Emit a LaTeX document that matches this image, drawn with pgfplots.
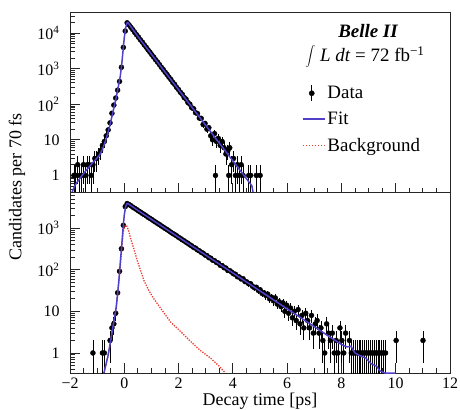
\documentclass[border=0pt]{standalone}
\usepackage{pgfplots}
\usepackage{pgfplotstable}
\pgfplotsset{compat=1.18}
\usepackage{fontspec}
\setmainfont{Liberation Serif}
\definecolor{fitblue}{RGB}{80,65,200}
\definecolor{bkgred}{RGB}{235,60,50}
\pgfplotstableread{
t n
-1.855 1
-1.785 1
-1.715 2
-1.645 1
-1.575 1
-1.505 2
-1.435 1
-1.365 2
-1.295 2
-1.225 1
-1.155 2
-1.085 3
-1.015 3
-0.945 4
-0.875 5
-0.805 7
-0.735 9
-0.665 13
-0.595 19
-0.525 30
-0.455 56
-0.385 95
-0.315 150
-0.245 250
-0.175 440
-0.105 1100
-0.035 4000
0.035 11500
0.105 19600
0.175 17200
0.245 14600
0.315 12500
0.385 10500
0.455 9000
0.525 7700
0.595 6500
0.665 5600
0.735 4700
0.805 4050
0.875 3400
0.945 2930
1.015 2470
1.085 2120
1.155 1790
1.225 1540
1.295 1310
1.365 1100
1.435 950
1.505 800
1.575 690
1.645 580
1.715 500
1.785 415
1.855 365
1.925 300
1.995 262
2.065 218
2.135 192
2.205 155
2.275 140
2.345 112
2.415 101
2.485 80
2.555 75
2.625 58
2.695 55
2.765 41
2.835 40
2.905 27
2.975 29
3.045 20
3.115 22
3.185 13
3.255 10
3.325 15
3.360 1
3.395 9
3.465 11
3.535 7
3.605 9
3.675 6
3.745 4
3.815 5
3.850 1
3.885 6
3.955 2
4.025 3
4.095 1
4.165 2
4.235 1
4.305 2
4.375 1
4.585 1
4.655 1
4.865 1
5.005 1
}\topdata
\pgfplotstableread{
t n
-1.155 1
-0.805 1
-0.735 1
-0.525 2
-0.455 4
-0.385 5
-0.315 9
-0.245 28
-0.175 92
-0.105 320
-0.035 1170
0.035 3300
0.105 3900
0.175 3700
0.245 3450
0.315 3190
0.385 3000
0.455 2800
0.525 2590
0.595 2440
0.665 2260
0.735 2120
0.805 1980
0.875 1830
0.945 1720
1.015 1610
1.085 1490
1.155 1400
1.225 1300
1.295 1220
1.365 1130
1.435 1060
1.505 985
1.575 925
1.645 860
1.715 800
1.785 745
1.855 700
1.925 655
1.995 605
2.065 570
2.135 525
2.205 495
2.275 460
2.345 432
2.415 398
2.485 375
2.555 345
2.625 330
2.695 300
2.765 285
2.835 262
2.905 250
2.975 226
3.045 218
3.115 196
3.185 190
3.255 170
3.325 165
3.395 150
3.465 145
3.535 128
3.605 126
3.675 112
3.745 110
3.815 96
3.885 95
3.955 88
4.025 80
4.095 78
4.165 68
4.235 67
4.305 60
4.375 61
4.445 52
4.515 51
4.585 46
4.655 46
4.725 40
4.795 37
4.865 38
4.935 32
5.005 33
5.075 27
5.145 28
5.215 24
5.285 26
5.355 20
5.425 22
5.495 18
5.565 21
5.635 15
5.705 17
5.775 13
5.845 16
5.915 10
5.985 14
6.055 9
6.125 12
6.195 7
6.265 10
6.335 6
6.405 11
6.475 5
6.545 8
6.615 4
6.685 9
6.755 6
6.825 4
6.895 8
6.965 3
7.035 5
7.105 6
7.175 3
7.245 4
7.315 2
7.385 1
7.455 5
7.525 3
7.595 2
7.665 3
7.735 1
7.805 2
7.875 1
7.945 4
8.015 2
8.085 1
8.155 3
8.295 2
8.365 1
8.435 1
8.505 1
8.575 1
8.645 1
8.715 1
8.785 1
8.855 1
8.925 1
8.995 1
9.065 1
9.135 1
9.205 1
9.275 1
9.345 1
9.415 1
9.485 1
9.555 1
9.625 1
10.015 2
11.005 2
}\botdata
\pgfplotstablecreatecol[create col/expr={sqrt(\thisrow{n})}]{ep}\topdata
\pgfplotstablecreatecol[create col/expr={min(sqrt(\thisrow{n}),\thisrow{n}-0.01)}]{em}\topdata
\pgfplotstablecreatecol[create col/expr={sqrt(\thisrow{n})}]{ep}\botdata
\pgfplotstablecreatecol[create col/expr={min(sqrt(\thisrow{n}),\thisrow{n}-0.01)}]{em}\botdata
\begin{document}
\begin{tikzpicture}
% ---------------- top panel ----------------
\begin{axis}[
  ymode=log,
  scale only axis, width=380bp, height=180bp, at={(0bp,180bp)},
  clip marker paths=true,
  xmin=-2, xmax=12, xtick={-2,0,2,4,6,8,10,12}, minor x tick num=3,
  axis line style={line width=1bp, black!85},
  tick style={black!85, line width=0.8bp},
  major tick length=10bp, minor tick length=5bp,
  tick pos=left,
  tick label style={font=\fontsize{16}{18}\selectfont},
  yticklabel style={xshift=-7bp},
  ymin=0.32, ymax=37000,
  ytick={1,10,100,1000,10000},
  yticklabels={1,10,10\textsuperscript{2},10\textsuperscript{3},10\textsuperscript{4}},
  minor ytick={0.4,0.5,0.6,0.7,0.8,0.9,2,3,4,5,6,7,8,9,20,30,40,50,60,70,80,90,200,300,400,500,600,700,800,900,2000,3000,4000,5000,6000,7000,8000,9000,20000,30000},
  xticklabels={},
  legend cell align=left,
  legend style={draw=none, fill=none, at={(0.61,0.605)}, anchor=north west,
    font=\fontsize{19}{22}\selectfont, inner sep=0pt, row sep=8bp},
]
\addplot[only marks, mark=*, mark size=2.5bp, black,
    legend image code/.code={%
    \draw[black,line width=0.8bp] (9bp,-8bp) -- (9bp,8bp);
    \fill[black] (9bp,0bp) circle (2.6bp);},
    error bars/y dir=both, error bars/y explicit,
    error bars/error bar style={line width=0.8bp, black}, error bars/error mark=none]
  table[x=t, y=n, y error plus=ep, y error minus=em] {\topdata};
\addlegendentry{Data}
\addplot[fitblue, line width=1.5bp,
  legend image code/.code={\draw[fitblue, line width=1.5bp] (0bp,0bp) -- (22bp,0bp);}] coordinates {
(-2.0,0.25) (-1.8,0.55) (-1.6,0.9) (-1.4,1.4) (-1.2,2.1) (-1.0,3.1) (-0.9,3.9)
(-0.8,5.5) (-0.7,9) (-0.6,16) (-0.5,32) (-0.4,70) (-0.3,150) (-0.2,380)
(-0.15,600) (-0.1,1200) (-0.05,3000) (0.0,7500) (0.05,14000) (0.1,19500)
(0.13,20000) (0.2,17000) (0.5,8100) (1.0,2570) (1.5,813) (2.0,257) (2.5,81)
(3.0,25.7) (3.5,8.1) (4.0,2.57) (4.5,0.81) (4.7,0.51) (4.75,0.32) (12,0.32)
};
\addlegendentry{Fit}
\addlegendimage{legend image code/.code={\draw[draw=bkgred, color=bkgred, dash pattern=on 1.5bp off 1.5bp, line width=1.4bp] (0bp,0bp) -- (22bp,0bp);}}
\addlegendentry{Background}
\end{axis}
\node[font=\fontsize{19}{22}\selectfont\bfseries\itshape] at (298bp,342bp) {Belle II};
\node[font=\fontsize{19}{22}\selectfont] at (295bp,316bp) {$\displaystyle\int$ \textit{L dt} = 72 fb\textsuperscript{−1}};
% ---------------- bottom panel ----------------
\begin{axis}[
  ymode=log,
  scale only axis, width=380bp, height=180bp, at={(0bp,0bp)},
  clip marker paths=true,
  xmin=-2, xmax=12, xtick={-2,0,2,4,6,8,10,12}, minor x tick num=3,
  axis line style={line width=1bp, black!85},
  tick style={black!85, line width=0.8bp},
  major tick length=10bp, minor tick length=5bp,
  tick pos=left,
  tick label style={font=\fontsize{16}{18}\selectfont},
  yticklabel style={xshift=-7bp},
  xticklabel style={yshift=-1bp},
  ymin=0.33, ymax=7000,
  ytick={1,10,100,1000},
  yticklabels={1,10,10\textsuperscript{2},10\textsuperscript{3}},
  minor ytick={0.4,0.5,0.6,0.7,0.8,0.9,2,3,4,5,6,7,8,9,20,30,40,50,60,70,80,90,200,300,400,500,600,700,800,900,2000,3000,4000,5000,6000},
  xticklabels={−2,0,2,4,6,8,10,12},
]
\addplot[only marks, mark=*, mark size=2.5bp, black,
    error bars/y dir=both, error bars/y explicit,
    error bars/error bar style={line width=0.8bp, black}, error bars/error mark=none]
  table[x=t, y=n, y error plus=ep, y error minus=em] {\botdata};
\addplot[bkgred, dash pattern=on 1.3bp off 1.3bp, line width=1.3bp] coordinates {
(-0.75,0.33) (-0.7,0.45) (-0.6,0.85) (-0.5,2) (-0.4,5) (-0.3,12) (-0.25,25)
(-0.2,50) (-0.15,120) (-0.1,280) (-0.05,700) (0.0,1050) (0.05,1170) (0.08,1170)
(0.15,900) (0.25,520) (0.37,290) (0.5,150) (0.73,54) (0.9,32) (1.1,19.5)
(1.4,10.5) (1.71,5.5) (2.07,3.3) (2.44,1.9) (2.8,1.15) (3.17,0.76) (3.5,0.48)
(3.72,0.33)
};
\addplot[fitblue, line width=1.5bp] coordinates {
(-0.75,0.33) (-0.7,0.45) (-0.6,0.85) (-0.5,2) (-0.4,5) (-0.3,12) (-0.25,25)
(-0.2,55) (-0.15,140) (-0.1,350) (-0.05,900) (0.0,2100) (0.05,3300) (0.1,3900)
(0.13,3920) (0.5,2670) (1.0,1630) (2.0,605) (3.0,225) (4.0,83.6) (5.0,31)
(6.0,11.5) (7.0,4.3) (7.5,2.6) (8.0,1.6) (8.2,1.4) (8.35,1.45) (8.5,1.0)
(8.7,0.85) (8.9,0.75) (9.1,0.55) (9.3,0.48) (9.4,0.38) (9.55,0.34) (9.6,0.33)
(10.0,0.33)
};
\end{axis}
\node[rotate=90, font=\fontsize{18}{21}\selectfont] at (-53bp,186bp) {Candidates per 70 fs};
\node[font=\fontsize{18}{21}\selectfont] at (190bp,-28bp) {Decay time [ps]};
\pgfresetboundingbox
\useasboundingbox (-70bp,-37bp) rectangle (390bp,373bp);
\end{tikzpicture}
\end{document}
